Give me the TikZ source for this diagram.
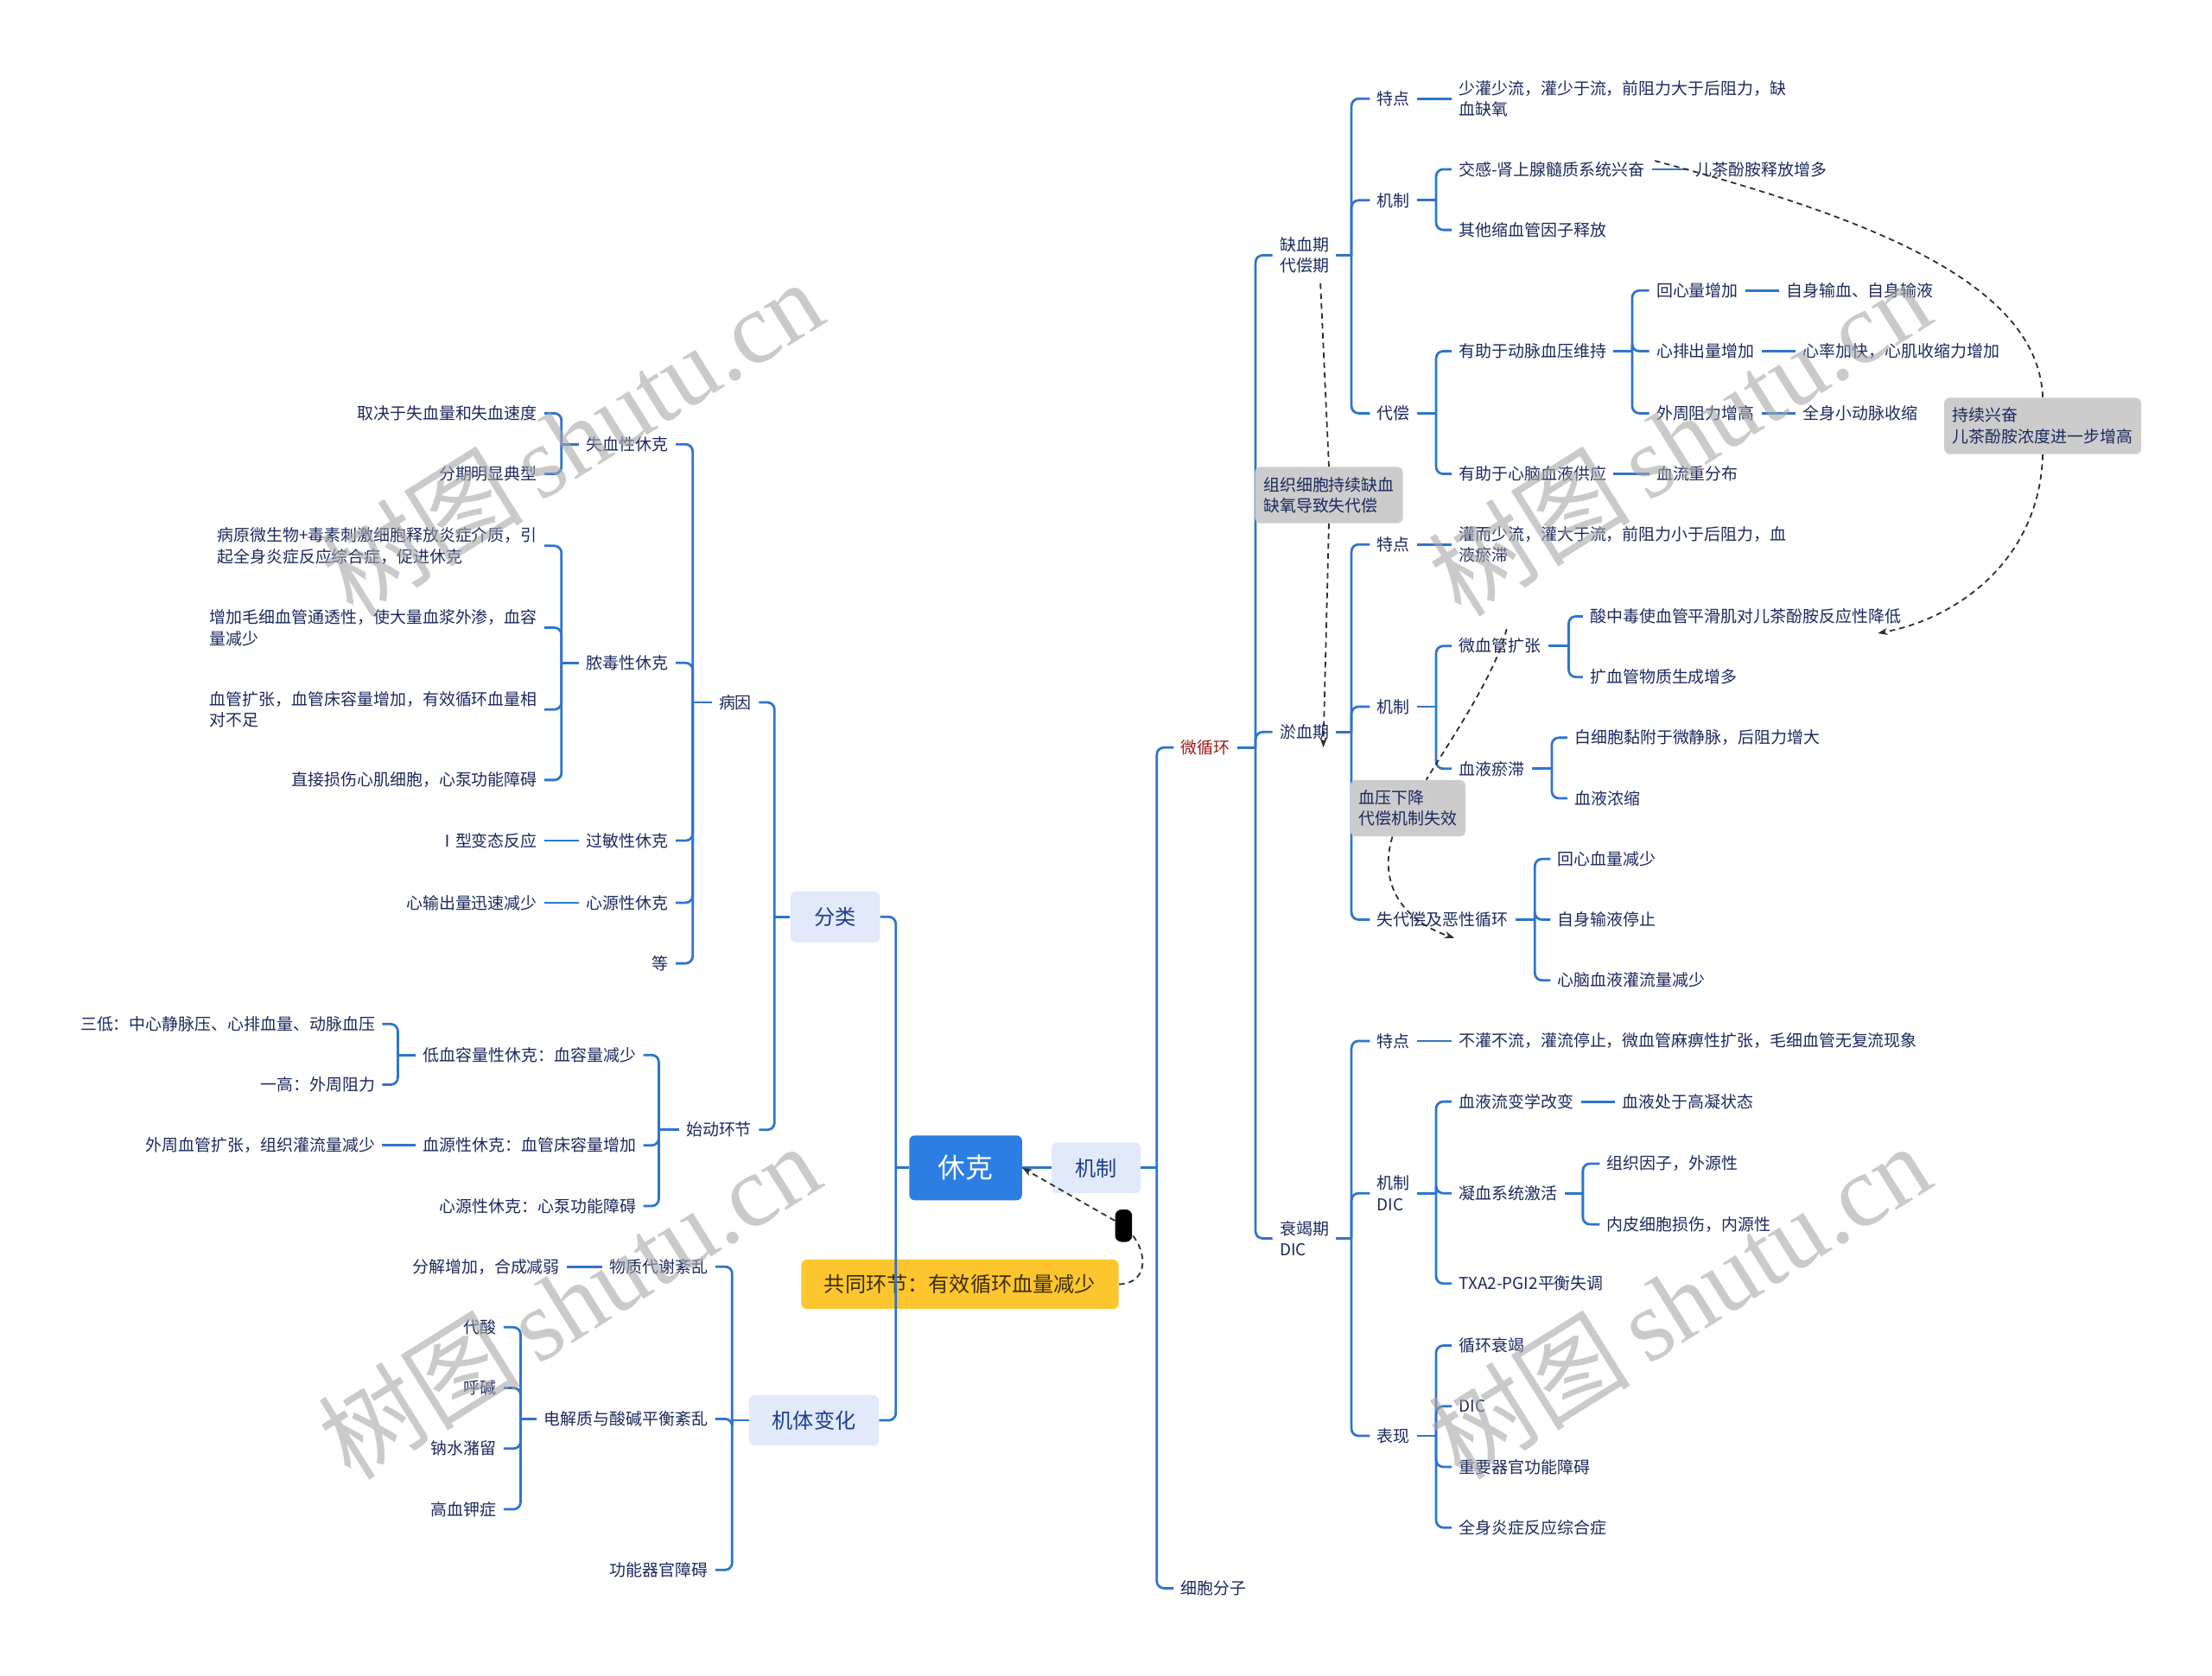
\documentclass[tikz,border=0pt]{standalone}
\usepackage{fontspec}
\setmainfont{Noto Sans CJK SC}
\newfontfamily\wmfont{Liberation Serif}
\usetikzlibrary{arrows.meta,calc}
\definecolor{lineblue}{RGB}{46,117,204}
\definecolor{txt}{RGB}{28,40,92}
\definecolor{rootblue}{RGB}{44,126,226}
\definecolor{lvlfill}{RGB}{225,233,250}
\definecolor{lvltxt}{RGB}{30,62,140}
\definecolor{yel}{RGB}{253,198,46}
\definecolor{yeltxt}{RGB}{60,45,10}
\definecolor{callgray}{RGB}{204,204,204}
\definecolor{dred}{RGB}{160,25,25}
\newcommand\fs{\fontsize{11.6}{15}\selectfont}
\newcommand\BR[3]{%
  \draw[conn] (#1.east) -- (#1.east -| #2,0);
  \foreach \cc in {#3}{\draw[conn] (#1.east -| #2,0) |- (\cc.west);}
}
\newcommand\BL[3]{%
  \draw[conn] (#1.west) -- (#1.west -| #2,0);
  \foreach \cc in {#3}{\draw[conn] (#1.west -| #2,0) |- (\cc.east);}
}
\newcommand\SR[2]{\draw[conn] (#1.east) -- (#1.east -| #2.west);}
\newcommand\SL[2]{\draw[conn] (#1.west) -- (#1.west -| #2.east);}
\begin{document}
\begin{tikzpicture}[x=1pt,y=-1pt,
  tx/.style={inner xsep=5pt, inner ysep=2pt, text=txt, font=\fs},
  R/.style={tx, anchor=west},
  L/.style={tx, anchor=east},
  ML/.style={align=left},
  conn/.style={draw=lineblue, line width=1.7pt, rounded corners=5pt},
  lvl/.style={fill=lvlfill, rounded corners=4pt, text=lvltxt, font=\fontsize{14.8}{18}\selectfont, inner sep=0pt, minimum height=36pt},
  callout/.style={fill=callgray, rounded corners=4pt, text=txt, align=left, font=\fs, inner xsep=6pt, inner ysep=5pt, minimum height=40pt},
  dsh/.style={draw=black!82, line width=1.1pt, dash pattern=on 4pt off 3pt},
  arr/.style={-{Stealth[length=7pt,width=5pt]}},
  wm/.style={rotate=32, text=black!35, text opacity=0.6, font=\fontsize{72}{72}\selectfont}
]
\useasboundingbox (0,0) rectangle (1568,1188);

% ---------- central nodes ----------
\node[fill=rootblue, rounded corners=4pt, text=white, font=\fontsize{19.5}{22}\selectfont,
      minimum width=80pt, minimum height=46pt, inner sep=0pt] (rt) at (684.5,828) {休克};
\node[lvl, minimum width=63pt] (jz) at (777,828) {机制};
\node[lvl, minimum width=63.5pt] (fl) at (592,650) {分类};
\node[lvl, minimum width=92pt] (jt) at (577,1007) {机体变化};
\node[fill=yel, rounded corners=4pt, text=yeltxt, font=\fontsize{14.8}{18}\selectfont,
      minimum width=225pt, minimum height=35pt, inner sep=0pt] (yl) at (680.5,910.5) {共同环节：有效循环血量减少};

% ---------- right side ----------
\node[R, text=dred] (mc) at (832,530) {微循环};
\node[R] (xbfz) at (832,1126) {细胞分子};
\node[R, ML] (q1) at (902,181) {缺血期\\代偿期};
\node[R] (y1) at (902,519) {淤血期};
\node[R, ML] (s1) at (902,878) {衰竭期\\DIC};

\node[R] (q1tp) at (971,70) {特点};
\node[R] (q1jz) at (971,142) {机制};
\node[R] (q1dc) at (971,293) {代偿};
\node[R, ML] (q1tpx) at (1029,70) {少灌少流，灌少于流，前阻力大于后阻力，缺\\血缺氧};
\node[R] (jg) at (1029,120) {交感-肾上腺髓质系统兴奋};
\node[R] (ecf) at (1197,120) {儿茶酚胺释放增多};
\node[R] (qt) at (1029,163) {其他缩血管因子释放};
\node[R] (dm) at (1029,249) {有助于动脉血压维持};
\node[R] (hx) at (1169,206) {回心量增加};
\node[R] (zs) at (1261,206) {自身输血、自身输液};
\node[R] (xp) at (1169,249) {心排出量增加};
\node[R] (xl) at (1273,249) {心率加快，心肌收缩力增加};
\node[R] (wz) at (1169,293) {外周阻力增高};
\node[R] (qs) at (1273,293) {全身小动脉收缩};
\node[R] (xn) at (1029,336) {有助于心脑血液供应};
\node[R] (xlc) at (1169,336) {血流重分布};

\node[R] (y1tp) at (971,386) {特点};
\node[R, ML] (y1tpx) at (1029,386) {灌而少流，灌大于流，前阻力小于后阻力，血\\液瘀滞};
\node[R] (y1jz) at (971,501) {机制};
\node[R] (wxg) at (1029,458) {微血管扩张};
\node[R] (szd) at (1122,437) {酸中毒使血管平滑肌对儿茶酚胺反应性降低};
\node[R] (kxg) at (1122,480) {扩血管物质生成增多};
\node[R] (xyy) at (1029,545) {血液瘀滞};
\node[R] (bxb) at (1111,523) {白细胞黏附于微静脉，后阻力增大};
\node[R] (xynz) at (1111,566) {血液浓缩};
\node[R] (sdc) at (971,652) {失代偿及恶性循环};
\node[R] (hxx) at (1099,609) {回心血量减少};
\node[R] (zsy) at (1099,652) {自身输液停止};
\node[R] (xnx) at (1099,695) {心脑血液灌流量减少};

\node[R] (s1tp) at (971,738) {特点};
\node[R] (s1tpx) at (1029,738) {不灌不流，灌流停止，微血管麻痹性扩张，毛细血管无复流现象};
\node[R, ML] (s1jz) at (971,846) {机制\\DIC};
\node[R] (xlb) at (1029,781) {血液流变学改变};
\node[R] (gn) at (1145,781) {血液处于高凝状态};
\node[R] (nx) at (1029,846) {凝血系统激活};
\node[R] (zz) at (1134,825) {组织因子，外源性};
\node[R] (np) at (1134,868) {内皮细胞损伤，内源性};
\node[R] (txa) at (1029,910) {TXA2-PGI2平衡失调};
\node[R] (bx) at (971,1018) {表现};
\node[R] (xhs) at (1029,954) {循环衰竭};
\node[R] (dic) at (1029,997) {DIC};
\node[R] (zy) at (1029,1040) {重要器官功能障碍};
\node[R] (qsy) at (1029,1083) {全身炎症反应综合症};

% ---------- left side ----------
\node[L] (by) at (538,498) {病因};
\node[L] (sd) at (538,801) {始动环节};
\node[L] (sx) at (479,315) {失血性休克};
\node[L] (ns) at (479,470) {脓毒性休克};
\node[L] (gm) at (479,596) {过敏性休克};
\node[L] (xy) at (479,640) {心源性休克};
\node[L] (deng) at (479,683) {等};
\node[L] (qj) at (386,293) {取决于失血量和失血速度};
\node[L] (fq) at (386,336) {分期明显典型};
\node[L, ML] (nsa) at (386,387) {病原微生物+毒素刺激细胞释放炎症介质，引\\起全身炎症反应综合症，促进休克};
\node[L, ML] (nsb) at (386,445) {增加毛细血管通透性，使大量血浆外渗，血容\\量减少};
\node[L, ML] (nsc) at (386,503) {血管扩张，血管床容量增加，有效循环血量相\\对不足};
\node[L] (nsd) at (386,553) {直接损伤心肌细胞，心泵功能障碍};
\node[L] (ix) at (386,596) {Ⅰ型变态反应};
\node[L] (xs) at (386,640) {心输出量迅速减少};
\node[L] (dx) at (456,748) {低血容量性休克：血容量减少};
\node[L] (xyx) at (456,812) {血源性休克：血管床容量增加};
\node[L] (xyb) at (456,855) {心源性休克：心泵功能障碍};
\node[L] (sdi) at (271,726) {三低：中心静脉压、心排血量、动脉血压};
\node[L] (ygao) at (271,769) {一高：外周阻力};
\node[L] (wzx) at (271,812) {外周血管扩张，组织灌流量减少};
\node[L] (wzd) at (507,898) {物质代谢紊乱};
\node[L] (dj) at (507,1006) {电解质与酸碱平衡紊乱};
\node[L] (gnq) at (507,1113) {功能器官障碍};
\node[L] (fj) at (402,898) {分解增加，合成减弱};
\node[L] (ds) at (357,941) {代酸};
\node[L] (hj) at (357,984) {呼碱};
\node[L] (nsl) at (357,1027) {钠水潴留};
\node[L] (gx) at (357,1070) {高血钾症};

% ---------- connectors: right ----------
\SR{rt}{jz}
\BR{jz}{820}{mc,xbfz}
\BR{mc}{890}{q1,y1,s1}
\BR{q1}{958}{q1tp,q1jz,q1dc}
\SR{q1tp}{q1tpx}
\BR{q1jz}{1018}{jg,qt}
\SR{jg}{ecf}
\BR{q1dc}{1018}{dm,xn}
\BR{dm}{1157}{hx,xp,wz}
\SR{hx}{zs}
\SR{xp}{xl}
\SR{wz}{qs}
\SR{xn}{xlc}
\BR{y1}{958}{y1tp,y1jz,sdc}
\SR{y1tp}{y1tpx}
\BR{y1jz}{1018}{wxg,xyy}
\BR{wxg}{1112}{szd,kxg}
\BR{xyy}{1100}{bxb,xynz}
\BR{sdc}{1088}{hxx,zsy,xnx}
\BR{s1}{958}{s1tp,s1jz,bx}
\SR{s1tp}{s1tpx}
\BR{s1jz}{1018}{xlb,nx,txa}
\SR{xlb}{gn}
\BR{nx}{1122}{zz,np}
\BR{bx}{1018}{xhs,dic,zy,qsy}

% ---------- connectors: left ----------
\BL{rt}{635}{fl,jt}
\BL{fl}{549}{by,sd}
\BL{by}{491}{sx,ns,gm,xy,deng}
\BL{sx}{398}{qj,fq}
\BL{ns}{398}{nsa,nsb,nsc,nsd}
\SL{gm}{ix}
\SL{xy}{xs}
\BL{sd}{467}{dx,xyx,xyb}
\BL{dx}{282}{sdi,ygao}
\SL{xyx}{wzx}
\BL{jt}{519}{wzd,dj,gnq}
\SL{wzd}{fj}
\BL{dj}{369}{ds,hj,nsl,gx}

% ---------- callouts and dashed relations ----------
\node[callout] (cb1) at (942,351) {组织细胞持续缺血\\缺氧导致失代偿};
\node[callout] (cb2) at (998,573) {血压下降\\代偿机制失效};
\node[callout] (cb3) at (1448,302) {持续兴奋\\儿茶酚胺浓度进一步增高};

\coordinate (d1s) at (936,201);
\coordinate (d1e) at (938,530);
\draw[dsh] (d1s) -- (cb1.north);
\draw[dsh,arr] (cb1.south) -- (d1e);

\coordinate (d2s) at (1068,446);
\coordinate (d2e) at (1031,665);
\draw[dsh] (d2s) .. controls (1060,478) and (1030,522) .. ($(cb2.north)+(13,0)$);
\draw[dsh,arr] ($(cb2.south)+(-11,0)$) .. controls (976,630) and (998,654) .. (d2e);

\coordinate (d3s) at (1173,114);
\coordinate (d3e) at (1331,449);
\draw[dsh] (d3s) .. controls (1323,154) and (1445,200) .. (cb3.north);
\draw[dsh,arr] (cb3.south) .. controls (1446,395) and (1390,438) .. (d3e);

\coordinate (mkc) at (796.5,869);
\draw[dsh,arr] (yl.east) .. controls (815,910) and (815,885) .. (mkc) -- (rt.east);
\node[fill=black, rounded corners=4.5pt, minimum width=12pt, minimum height=23pt, inner sep=0pt] (mk) at (mkc) {};

% ---------- watermarks ----------
\node[wm] (w1) at (405,310) {树图\,{\wmfont shutu.cn}};
\node[wm] (w2) at (1190,310) {树图\,{\wmfont shutu.cn}};
\node[wm] (w3) at (403,922) {树图\,{\wmfont shutu.cn}};
\node[wm] (w4) at (1190,922) {树图\,{\wmfont shutu.cn}};
\end{tikzpicture}
\end{document}
